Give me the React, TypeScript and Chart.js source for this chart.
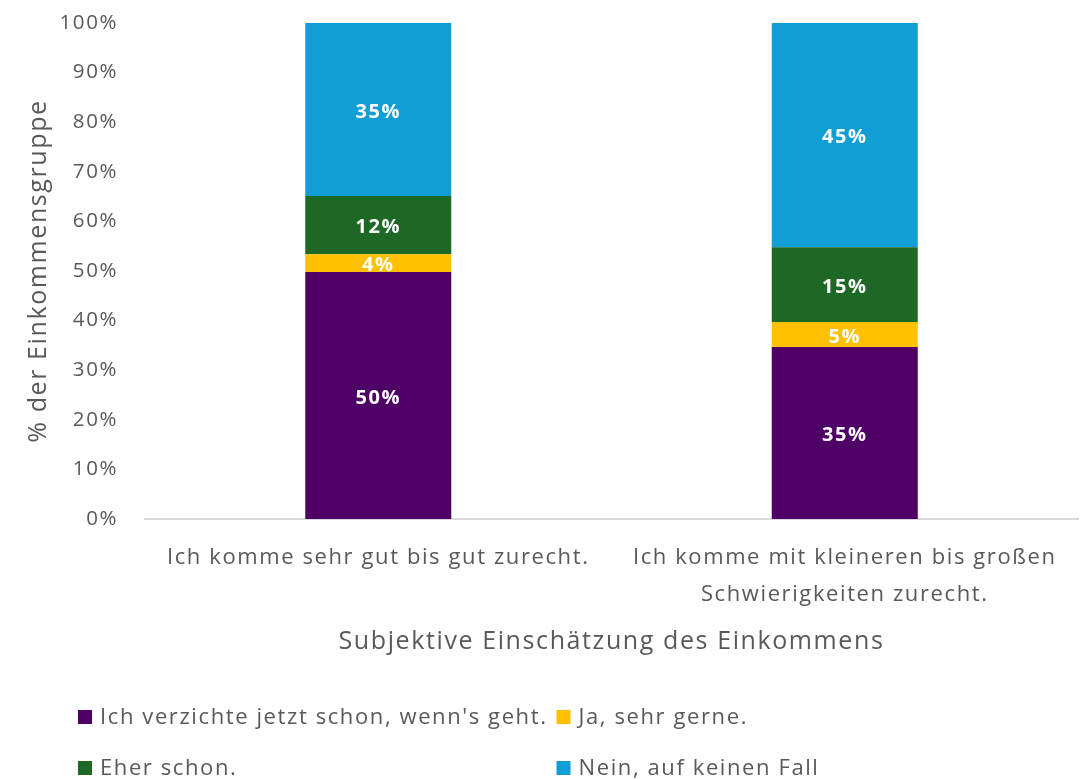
import React, { useEffect, useRef } from "react";
import { Chart, registerables } from "chart.js";

Chart.register(...registerables);

// ---- data ----
const categories: string[][] = [
  ["Ich komme sehr gut bis gut zurecht."],
  ["Ich komme mit kleineren bis großen", "Schwierigkeiten zurecht."],
];
const seriesNames = [
  "Ich verzichte jetzt schon, wenn's geht.",
  "Ja, sehr gerne.",
  "Eher schon.",
  "Nein, auf keinen Fall",
];
const verzichteValues = [49.8, 34.7];
const jaGerneValues = [3.6, 5.0];
const eherSchonValues = [11.7, 15.1];
const neinValues = [34.9, 45.2];
const seriesColors = ["#4E0066", "#FFC000", "#1C6824", "#109ED5"];
const yTickValues = [0, 10, 20, 30, 40, 50, 60, 70, 80, 90, 100];
const yAxisTitle = "% der Einkommensgruppe";
const xAxisTitle = "Subjektive Einschätzung des Einkommens";

const FONT = "'Open Sans', sans-serif";
const GREY = "#595959";
const SPACING = "1.6px";

const spacingPlugin = {
  id: "letterSpacing",
  beforeInit(chart: any) {
    chart.ctx.letterSpacing = SPACING;
  },
  beforeUpdate(chart: any) {
    chart.ctx.letterSpacing = SPACING;
  },
  beforeDraw(chart: any) {
    chart.ctx.letterSpacing = SPACING;
  },
};

const dataLabelPlugin = {
  id: "dataLabels",
  afterDatasetsDraw(chart: any) {
    const ctx = chart.ctx;
    ctx.save();
    ctx.fillStyle = "#FFFFFF";
    ctx.font = `bold 20px ${FONT}`;
    ctx.textAlign = "center";
    ctx.textBaseline = "middle";
    chart.data.datasets.forEach((ds: any, di: number) => {
      const meta = chart.getDatasetMeta(di);
      meta.data.forEach((el: any, i: number) => {
        const p = el.getProps(["x", "y", "base"], true);
        const v = ds.data[i];
        ctx.fillText(Math.round(v) + "%", p.x, (p.y + p.base) / 2 + 2.5);
      });
    });
    ctx.restore();
  },
};

const legendPlugin = {
  id: "gridLegend",
  afterDraw(chart: any) {
    const ctx = chart.ctx;
    ctx.save();
    ctx.font = `22px ${FONT}`;
    ctx.textBaseline = "middle";
    ctx.textAlign = "left";
    const left = 78;
    const box = 14;
    const gapText = 8;
    const rowsY = [chart.height - 63, chart.height - 12];
    const ds = chart.data.datasets;
    const col1Width = Math.max(
      ctx.measureText(ds[0].label).width,
      ctx.measureText(ds[2].label).width
    );
    const col2X = left + box + gapText + col1Width + 9;
    ds.forEach((d: any, i: number) => {
      const row = Math.floor(i / 2);
      const col = i % 2;
      const x = col === 0 ? left : col2X;
      const y = rowsY[row];
      ctx.fillStyle = d.backgroundColor;
      ctx.fillRect(x, y - box / 2, box, box);
      ctx.fillStyle = GREY;
      ctx.fillText(d.label, x + box + gapText, y + 1);
    });
    ctx.restore();
  },
};

export default function App() {
  const ref = useRef<HTMLCanvasElement | null>(null);
  useEffect(() => {
    if (!ref.current) return;
    const seriesValues = [verzichteValues, jaGerneValues, eherSchonValues, neinValues];
    const chart = new Chart(ref.current, {
      type: "bar",
      data: {
        labels: categories as any,
        datasets: seriesNames.map((name, i) => ({
          label: name,
          data: seriesValues[i],
          backgroundColor: seriesColors[i],
          borderWidth: 0,
          barPercentage: 0.313,
          categoryPercentage: 1,
        })),
      },
      options: {
        responsive: false,
        animation: false,
        layout: { padding: { top: 23, left: 10, right: 6, bottom: 121 } },
        plugins: {
          legend: { display: false },
          tooltip: { enabled: false },
        },
        scales: {
          x: {
            stacked: true,
            grid: { display: false, drawTicks: false },
            border: { display: true, color: "#D9D9D9", width: 2 },
            ticks: {
              color: GREY,
              font: { family: FONT, size: 22, lineHeight: 1.68 },
              padding: 20,
              maxRotation: 0,
              autoSkip: false,
            },
            title: {
              display: true,
              text: xAxisTitle,
              color: GREY,
              font: { family: FONT, size: 25, lineHeight: 1.2 },
              padding: { top: 0, bottom: 2 },
            },
            afterFit: (s: any) => {
              s.height = 140;
            },
          },
          y: {
            stacked: true,
            min: 0,
            max: 100,
            grid: { display: false, drawTicks: false },
            border: { display: false },
            afterBuildTicks: (s: any) => {
              s.ticks = yTickValues.map((v) => ({ value: v }));
            },
            ticks: {
              color: GREY,
              font: { family: FONT, size: 20.5 },
              padding: 27,
              callback: (v: any) => v + "%",
            },
            title: {
              display: true,
              text: yAxisTitle,
              color: GREY,
              font: { family: FONT, size: 25, lineHeight: 1.2 },
              padding: { top: 14, bottom: 10 },
            },
            afterFit: (s: any) => {
              s.width = 135;
              s.paddingTop = 0;
              s.paddingBottom = 0;
            },
          },
        },
      },
      plugins: [spacingPlugin, dataLabelPlugin, legendPlugin],
    });
    return () => chart.destroy();
  }, []);
  return (
    <div style={{ position: "fixed", left: 0, top: 0, width: 1084, height: 780, background: "#fff" }}>
      <canvas ref={ref} width={1084} height={780} style={{ width: 1084, height: 780 }} />
    </div>
  );
}
